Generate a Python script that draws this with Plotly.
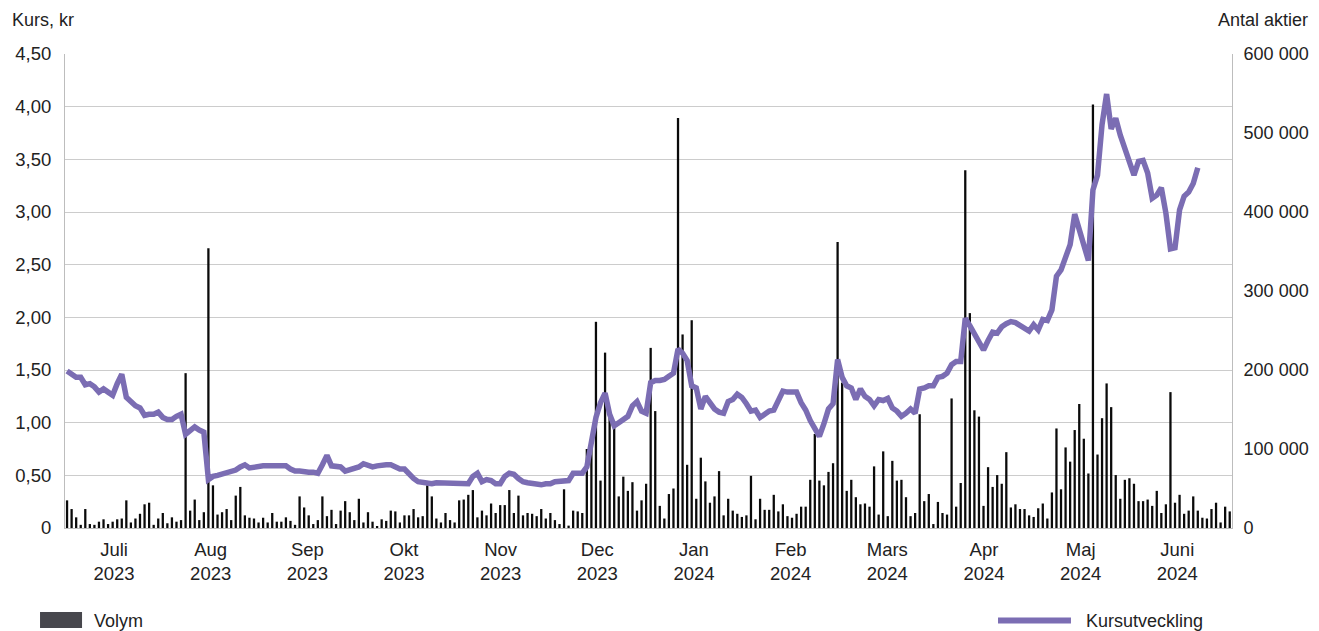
import plotly.graph_objects as go

# Trading-day volume (antal aktier), one value per bar
volume_k = [
    35, 24, 13.5, 4, 24, 5, 4, 8, 11, 5, 8, 11, 12, 35, 7, 12, 18, 30, 32, 4, 12, 19, 6, 13.5, 8, 10, 196, 22, 36, 10, 20, 354, 54, 17, 20, 24, 10, 41, 52, 16, 13, 12, 7,
    13, 7, 19, 8, 8, 13.5, 9, 4, 40, 26, 16, 5, 10, 40, 15, 23, 5, 22, 34, 20, 10, 37, 7, 20, 8, 2.5, 11, 9, 22, 21, 7, 16, 16, 24, 13.5, 15, 54, 40, 12, 7, 19, 10, 7,
    35, 36, 42, 48, 13.5, 22, 16, 31, 19, 29, 29, 48, 19, 41, 16, 19, 18, 15, 24, 12, 19, 10, 5, 49, 3, 22, 21, 19, 100, 110, 261, 60, 222, 140, 128, 40, 65, 47, 58, 22, 35, 56, 228,
    148, 28, 12, 43, 50, 519, 245, 80, 263, 37, 89, 59, 32, 40, 72, 16, 37, 22, 18, 14, 16, 66, 11, 37, 23, 23, 42, 21, 30, 15, 13, 18, 27, 27, 61, 119, 60, 54, 71, 82, 362, 184, 47,
    61, 39, 30, 31, 27, 78, 17, 97, 15, 85, 60, 61, 39, 15, 19, 144, 34, 43, 5, 33, 19, 17, 164, 27, 57, 453, 272, 149, 141, 28, 77, 52, 67, 56, 96, 26, 30, 24, 24, 16, 14, 25, 31,
    12, 45, 126, 49, 102, 84, 124, 157, 113, 69, 536, 93, 139, 183, 153, 67, 37, 61, 63, 56, 34, 34, 36, 28, 47, 19, 30, 172, 32, 42, 18, 22, 40, 22, 13, 12, 24, 32, 7, 27, 21,
]
volume = [v * 1000 for v in volume_k]

# Closing price (kr), one value per trading day
price = [
    1.49, 1.46, 1.43, 1.43, 1.36, 1.37, 1.34, 1.29, 1.32, 1.29, 1.26, 1.37, 1.46, 1.24, 1.20, 1.16, 1.14, 1.07, 1.08, 1.08, 1.10, 1.05, 1.03, 1.03, 1.06, 1.08, 0.89, 0.92, 0.96, 0.93, 0.91, 0.46, 0.49, 0.50, 0.51, 0.52, 0.53, 0.55, 0.58, 0.60, 0.57, 0.58, 0.59,
    0.59, 0.59, 0.59, 0.60, 0.60, 0.59, 0.56, 0.54, 0.54, 0.53, 0.53, 0.53, 0.52, 0.60, 0.69, 0.59, 0.59, 0.58, 0.54, 0.55, 0.57, 0.58, 0.61, 0.60, 0.58, 0.59, 0.60, 0.60, 0.60, 0.58, 0.56, 0.56, 0.51, 0.47, 0.44, 0.43, 0.42, 0.42, 0.43, 0.43, 0.43, 0.42, 0.42,
    0.42, 0.42, 0.42, 0.49, 0.52, 0.44, 0.46, 0.45, 0.42, 0.42, 0.49, 0.52, 0.51, 0.47, 0.44, 0.43, 0.42, 0.41, 0.41, 0.42, 0.42, 0.44, 0.44, 0.44, 0.45, 0.52, 0.52, 0.52, 0.58, 0.81, 1.05, 1.19, 1.28, 1.08, 0.97, 1.00, 1.03, 1.06, 1.16, 1.20, 1.11, 1.09, 1.38,
    1.40, 1.40, 1.41, 1.44, 1.47, 1.70, 1.66, 1.59, 1.35, 1.33, 1.13, 1.25, 1.18, 1.13, 1.10, 1.09, 1.20, 1.22, 1.27, 1.24, 1.18, 1.11, 1.12, 1.05, 1.08, 1.11, 1.12, 1.21, 1.30, 1.29, 1.29, 1.29, 1.19, 1.12, 1.02, 0.94, 0.87, 0.99, 1.13, 1.18, 1.60, 1.43, 1.35,
    1.33, 1.22, 1.32, 1.25, 1.22, 1.16, 1.22, 1.21, 1.23, 1.14, 1.11, 1.06, 1.09, 1.13, 1.09, 1.32, 1.33, 1.35, 1.35, 1.43, 1.44, 1.47, 1.55, 1.58, 1.58,
    1.99, 1.92, 1.84, 1.77, 1.69, 1.78, 1.86, 1.85, 1.91, 1.94, 1.96, 1.95, 1.92, 1.90, 1.87, 1.93, 1.88, 1.98, 1.97, 2.07,
    2.39, 2.45, 2.58, 2.69, 2.98, 2.83, 2.69, 2.54, 3.21, 3.35, 3.83, 4.12, 3.79, 3.89, 3.73, 3.59, 3.46, 3.35, 3.48, 3.49, 3.37, 3.13, 3.16, 3.23, 2.99, 2.65, 2.66, 3.02, 3.15, 3.19, 3.27, 3.42,
]

month_labels = ["Juli<br>2023", "Aug<br>2023", "Sep<br>2023", "Okt<br>2023", "Nov<br>2023", "Dec<br>2023",
                "Jan<br>2024", "Feb<br>2024", "Mars<br>2024", "Apr<br>2024", "Maj<br>2024", "Juni<br>2024"]
month_pos = [10.3, 31.5, 52.7, 73.9, 95.1, 116.3, 137.5, 158.7, 179.9, 201.1, 222.3, 243.5]

price_ticks = [0, 0.5, 1.0, 1.5, 2.0, 2.5, 3.0, 3.5, 4.0, 4.5]
price_ticktext = ["0", "0,50", "1,00", "1,50", "2,00", "2,50", "3,00", "3,50", "4,00", "4,50"]
vol_ticks = [0, 100000, 200000, 300000, 400000, 500000, 600000]
vol_ticktext = ["0", "100 000", "200 000", "300 000", "400 000", "500 000", "600 000"]

FONT = "Liberation Sans, Arial, sans-serif"
TXT = "#222222"
PURPLE = "#7b6db3"
AXIS = "#bdbdbd"
TICK = 18.5

fig = go.Figure()
fig.add_trace(go.Bar(
    x=list(range(len(volume))), y=volume, name="Volym",
    marker=dict(color="#0a0a0a", line=dict(width=0)), width=0.5, yaxis="y",
))
fig.add_trace(go.Scatter(
    x=list(range(len(price))), y=price, name="Kursutveckling", mode="lines",
    line=dict(color=PURPLE, width=5.5), yaxis="y2",
))

# The page body keeps its default 8px margin, so the figure is 8px smaller
# and its margins are reduced by 8px on the left/top.
fig.update_layout(
    width=1311, height=623, autosize=False,
    margin=dict(l=57, r=87, t=46, b=103, autoexpand=False),
    plot_bgcolor="white", paper_bgcolor="white",
    font=dict(family=FONT, size=TICK, color=TXT),
    showlegend=False,
    xaxis=dict(range=[-0.45, 255.5], tickmode="array", tickvals=month_pos, ticktext=month_labels,
               showgrid=False, zeroline=False, showline=True, linecolor=AXIS, linewidth=1, automargin=False,
               ticks="", tickfont=dict(size=TICK, color=TXT), ticklabelstandoff=5),
    yaxis=dict(side="right", range=[0, 600000], tickmode="array", tickvals=vol_ticks, ticktext=vol_ticktext,
               showgrid=False, zeroline=False, showline=True, linecolor=AXIS, linewidth=1, automargin=False,
               ticks="", tickfont=dict(size=18, color=TXT), ticklabelstandoff=7),
    yaxis2=dict(side="left", overlaying="y", range=[0, 4.5], tickmode="array", tickvals=price_ticks,
                ticktext=price_ticktext, showgrid=True, gridcolor="#cccccc", gridwidth=1.2,
                zeroline=False, showline=True, linecolor=AXIS, linewidth=1, automargin=False,
                ticks="", tickfont=dict(size=TICK, color=TXT), ticklabelstandoff=9),
)

# axis titles
fig.add_annotation(text="Kurs, kr", xref="paper", yref="paper", x=-0.0471, y=1.072,
                   xanchor="left", yanchor="middle", showarrow=False, font=dict(size=18, color=TXT))
fig.add_annotation(text="Antal aktier", xref="paper", yref="paper", x=1.0665, y=1.072,
                   xanchor="right", yanchor="middle", showarrow=False, font=dict(size=18, color=TXT))

# legend (drawn manually to match the split layout)
fig.add_shape(type="rect", xref="paper", yref="paper", x0=-0.0214, x1=0.0146, y0=-0.211, y1=-0.177,
              fillcolor="#47474d", line=dict(width=0))
fig.add_annotation(text="Volym", xref="paper", yref="paper", x=0.0231, y=-0.197,
                   xanchor="left", yanchor="middle", showarrow=False, font=dict(size=18, color=TXT))
fig.add_shape(type="line", xref="paper", yref="paper", x0=0.7995, x1=0.862, y0=-0.195, y1=-0.195,
              line=dict(color=PURPLE, width=6))
fig.add_annotation(text="Kursutveckling", xref="paper", yref="paper", x=0.8732, y=-0.197,
                   xanchor="left", yanchor="middle", showarrow=False, font=dict(size=18, color=TXT))

fig.write_html(
    "out.html",
    config={"displayModeBar": False, "responsive": False},
    post_script="document.documentElement.style.overflow='hidden';document.body.style.overflow='hidden';",
)
